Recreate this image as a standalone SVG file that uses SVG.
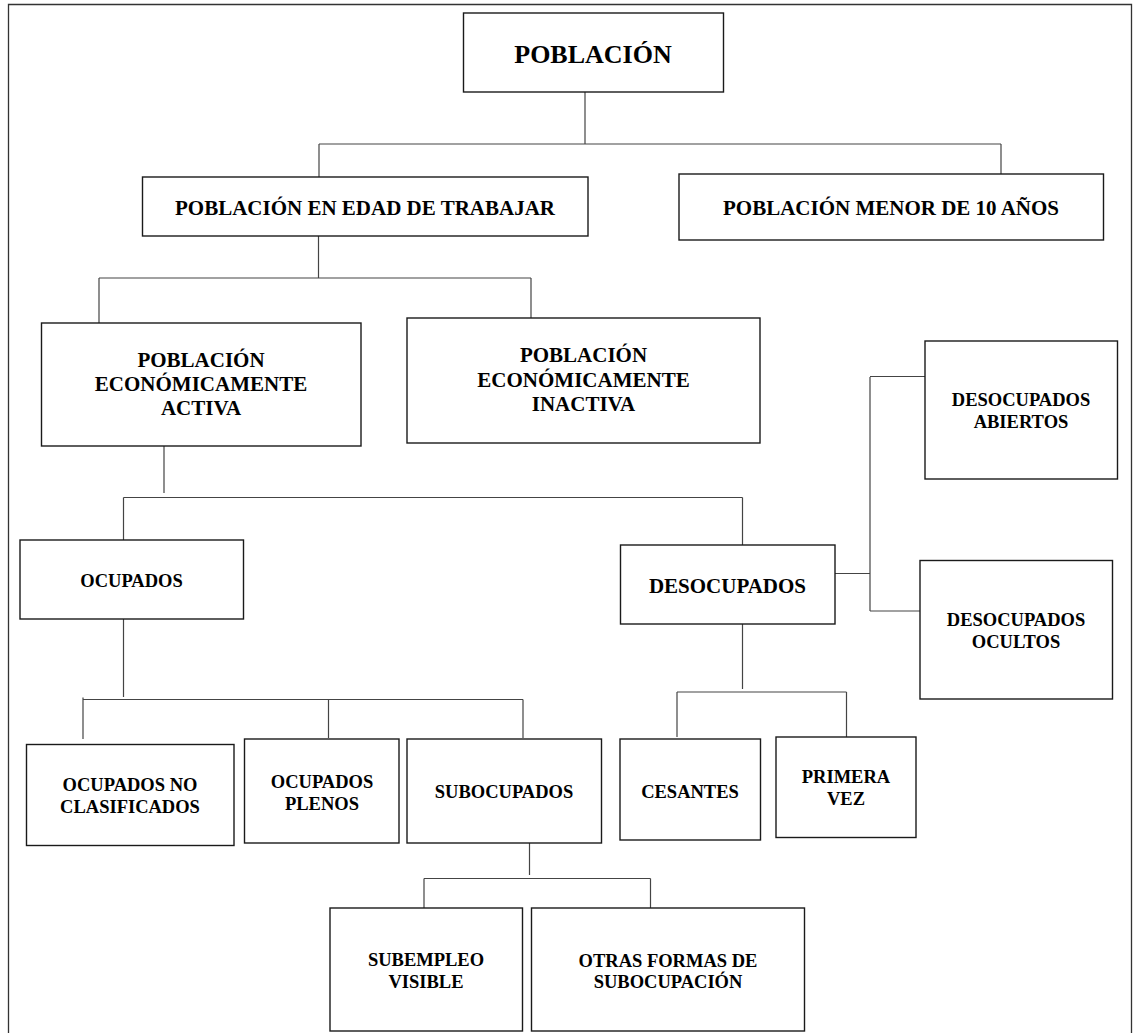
<svg xmlns="http://www.w3.org/2000/svg" width="1133" height="1033" viewBox="0 0 1133 1033">
<style>
.box{fill:#fff;stroke:#1a1a1a;stroke-width:1.4}
.c line{stroke:#444;stroke-width:1.2}
text{font-family:"Liberation Serif","Times New Roman",serif;font-weight:bold;fill:#000;text-anchor:middle}
.f21{font-size:21px}
.f18{font-size:18.5px}
</style>
<rect width="1133" height="1033" fill="#fff"/>
<g id="frame" fill="none" stroke="#333" stroke-width="1.3">
<polyline points="8.5,1033 8.5,4.5 1131.5,4.5 1131.5,1033"/>
</g>
<g class="c" id="connectors">
<line x1="585" y1="92" x2="585" y2="144"/>
<line x1="319" y1="144" x2="1001" y2="144"/>
<line x1="319" y1="144" x2="319" y2="177"/>
<line x1="1001" y1="144" x2="1001" y2="174"/>
<line x1="318.5" y1="236" x2="318.5" y2="278"/>
<line x1="99" y1="278" x2="531" y2="278"/>
<line x1="99" y1="278" x2="99" y2="323"/>
<line x1="531" y1="278" x2="531" y2="318"/>
<line x1="164" y1="446" x2="164" y2="493"/>
<line x1="123.5" y1="497.5" x2="742.5" y2="497.5"/>
<line x1="123.5" y1="497.5" x2="123.5" y2="540"/>
<line x1="742.5" y1="497.5" x2="742.5" y2="545"/>
<line x1="835" y1="573.5" x2="870" y2="573.5"/>
<line x1="870" y1="377" x2="870" y2="611"/>
<line x1="870" y1="376.5" x2="925" y2="376.5"/>
<line x1="870" y1="611" x2="920" y2="611"/>
<line x1="742.5" y1="624" x2="742.5" y2="689"/>
<line x1="677" y1="692" x2="846.5" y2="692"/>
<line x1="677" y1="692" x2="677" y2="737"/>
<line x1="846.5" y1="692" x2="846.5" y2="737"/>
<line x1="123.5" y1="619" x2="123.5" y2="697"/>
<line x1="83" y1="699.5" x2="523" y2="699.5"/>
<line x1="83" y1="697.5" x2="83" y2="739"/>
<line x1="328.5" y1="699.5" x2="328.5" y2="738"/>
<line x1="523" y1="699.5" x2="523" y2="738"/>
<line x1="529.5" y1="843" x2="529.5" y2="875"/>
<line x1="424" y1="878.5" x2="650.5" y2="878.5"/>
<line x1="424" y1="878.5" x2="424" y2="908"/>
<line x1="650.5" y1="878.5" x2="650.5" y2="910"/>
</g>
<g id="n-poblacion"><rect class="box" x="463.5" y="13" width="260" height="79"/><text x="593" y="63" style="font-size:26px">POBLACIÓN</text></g>
<g id="n-pet"><rect class="box" x="142.5" y="177" width="445.5" height="59"/><text class="f21" x="365" y="215">POBLACIÓN EN EDAD DE TRABAJAR</text></g>
<g id="n-menor"><rect class="box" x="679" y="174" width="424.5" height="66"/><text class="f21" x="891" y="215">POBLACIÓN MENOR DE 10 AÑOS</text></g>
<g id="n-pea"><rect class="box" x="41.5" y="323" width="319.5" height="123"/><text class="f21" x="201" y="367">POBLACIÓN</text><text class="f21" x="201" y="391">ECONÓMICAMENTE</text><text class="f21" x="201" y="415">ACTIVA</text></g>
<g id="n-pei"><rect class="box" x="407" y="318" width="353" height="125"/><text class="f21" x="583.5" y="362">POBLACIÓN</text><text class="f21" x="583.5" y="387">ECONÓMICAMENTE</text><text class="f21" x="583.5" y="411">INACTIVA</text></g>
<g id="n-ocupados"><rect class="box" x="20" y="540" width="223.5" height="79"/><text x="131.5" y="587" style="font-size:18.5px">OCUPADOS</text></g>
<g id="n-desocupados"><rect class="box" x="620.5" y="545" width="214.5" height="79"/><text class="f21" x="727.5" y="593">DESOCUPADOS</text></g>
<g id="n-abiertos"><rect class="box" x="925" y="341" width="192.5" height="138"/><text class="f18" x="1021" y="406">DESOCUPADOS</text><text class="f18" x="1021" y="428">ABIERTOS</text></g>
<g id="n-ocultos"><rect class="box" x="920" y="560.5" width="192.5" height="138.5"/><text class="f18" x="1016" y="626">DESOCUPADOS</text><text class="f18" x="1016" y="648">OCULTOS</text></g>
<g id="n-noclas"><rect class="box" x="26.5" y="744.5" width="207.5" height="101"/><text class="f18" x="130" y="791">OCUPADOS NO</text><text class="f18" x="130" y="812.5">CLASIFICADOS</text></g>
<g id="n-plenos"><rect class="box" x="244.5" y="739" width="154.5" height="104"/><text class="f18" x="322" y="788">OCUPADOS</text><text class="f18" x="322" y="810">PLENOS</text></g>
<g id="n-subocupados"><rect class="box" x="407" y="739" width="194.5" height="104"/><text class="f18" x="504" y="798">SUBOCUPADOS</text></g>
<g id="n-cesantes"><rect class="box" x="620" y="739" width="140.5" height="101"/><text class="f18" x="690" y="798">CESANTES</text></g>
<g id="n-primera"><rect class="box" x="776" y="737" width="140" height="100.5"/><text class="f18" x="846" y="783">PRIMERA</text><text class="f18" x="846" y="805">VEZ</text></g>
<g id="n-visible"><rect class="box" x="330" y="908" width="192.5" height="123"/><text class="f18" x="426" y="966">SUBEMPLEO</text><text class="f18" x="426" y="988">VISIBLE</text></g>
<g id="n-otras"><rect class="box" x="531.5" y="908" width="273" height="123"/><text class="f18" x="668" y="966.5">OTRAS FORMAS DE</text><text class="f18" x="668" y="988">SUBOCUPACIÓN</text></g>
</svg>
